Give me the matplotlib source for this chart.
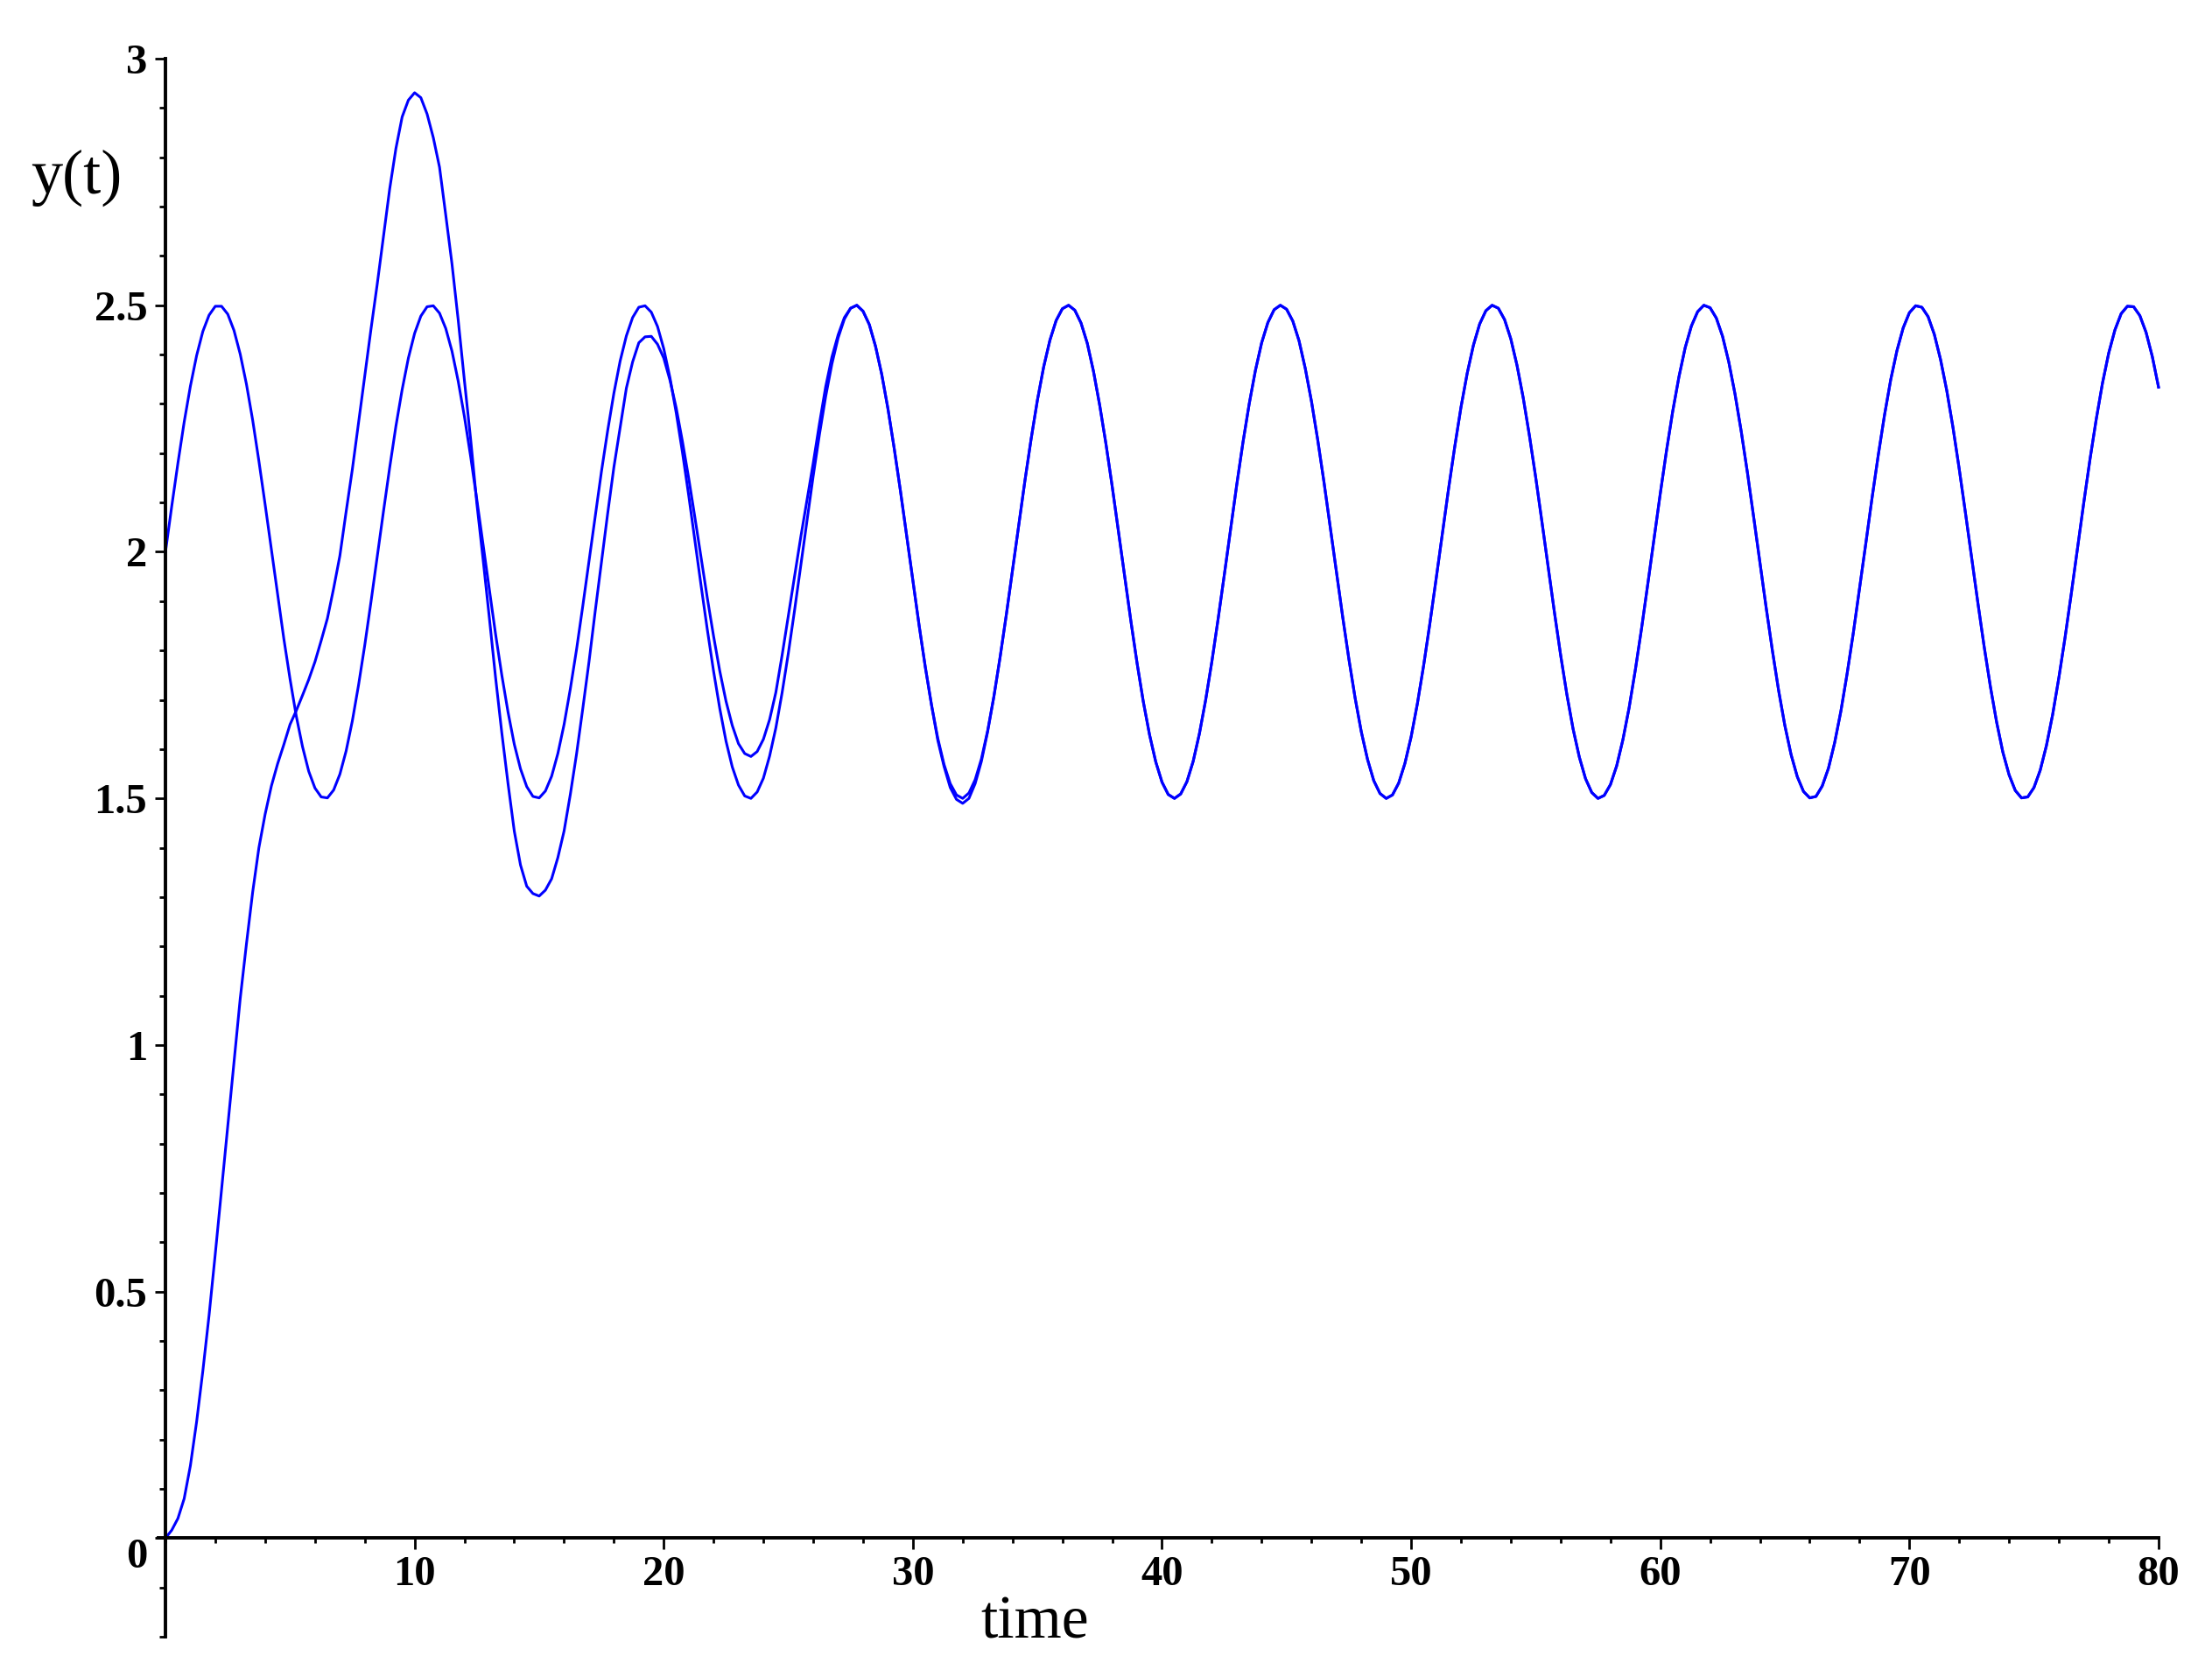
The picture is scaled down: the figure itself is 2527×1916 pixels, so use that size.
import matplotlib.pyplot as plt
from matplotlib.ticker import MultipleLocator
import numpy as np

# Values. "half" lists are at t = 0, 0.5, 1.0, ... 80,
# "quarter" lists are at t = 0.25, 0.75, ... 79.75.

# steady periodic solution (starts at 2, swings between 1.5 and 2.5)
steady_half = [
    2.000, 2.180, 2.336, 2.447, 2.498, 2.482, 2.401, 2.267, 2.096, 1.913,
    1.742, 1.605, 1.521, 1.501, 1.549, 1.657, 1.811, 1.991, 2.171, 2.329,
    2.443, 2.497, 2.484, 2.407, 2.274, 2.105, 1.922, 1.750, 1.610, 1.524,
    1.501, 1.545, 1.650, 1.802, 1.981, 2.163, 2.322, 2.438, 2.496, 2.486,
    2.412, 2.282, 2.115, 1.931, 1.758, 1.616, 1.527, 1.500, 1.541, 1.643,
    1.794, 1.972, 2.154, 2.315, 2.434, 2.494, 2.488, 2.417, 2.290, 2.124,
    1.941, 1.766, 1.622, 1.530, 1.500, 1.538, 1.637, 1.786, 1.963, 2.145,
    2.308, 2.429, 2.493, 2.490, 2.423, 2.297, 2.133, 1.950, 1.774, 1.629,
    1.533, 1.500, 1.534, 1.631, 1.777, 1.953, 2.136, 2.300, 2.424, 2.491,
    2.492, 2.428, 2.305, 2.142, 1.959, 1.783, 1.635, 1.536, 1.500, 1.531,
    1.625, 1.769, 1.944, 2.127, 2.293, 2.419, 2.489, 2.494, 2.432, 2.312,
    2.151, 1.969, 1.791, 1.641, 1.540, 1.500, 1.528, 1.619, 1.761, 1.935,
    2.118, 2.285, 2.414, 2.487, 2.495, 2.437, 2.320, 2.160, 1.978, 1.800,
    1.648, 1.544, 1.501, 1.525, 1.613, 1.753, 1.926, 2.109, 2.277, 2.408,
    2.485, 2.496, 2.441, 2.327, 2.168, 1.987, 1.808, 1.655, 1.548, 1.501,
    1.522, 1.607, 1.745, 1.916, 2.100, 2.269, 2.403, 2.483, 2.497, 2.445,
    2.334,
]
steady_quarter = [
    2.092, 2.263, 2.398, 2.480, 2.498, 2.449, 2.340, 2.184, 2.005, 1.824, 1.667, 1.555, 1.503, 1.517, 1.596, 1.730, 1.899,
    2.082, 2.255, 2.393, 2.478, 2.499, 2.453, 2.346, 2.193, 2.014, 1.833, 1.675, 1.560, 1.504, 1.515, 1.591, 1.722, 1.890,
    2.073, 2.246, 2.387, 2.475, 2.499, 2.457, 2.353, 2.202, 2.023, 1.842, 1.682, 1.564, 1.505, 1.513, 1.586, 1.714, 1.881,
    2.064, 2.238, 2.381, 2.472, 2.500, 2.461, 2.360, 2.210, 2.033, 1.851, 1.689, 1.569, 1.507, 1.511, 1.580, 1.706, 1.872,
    2.055, 2.230, 2.375, 2.469, 2.500, 2.464, 2.366, 2.219, 2.042, 1.860, 1.696, 1.574, 1.508, 1.509, 1.575, 1.699, 1.863,
    2.045, 2.222, 2.368, 2.465, 2.500, 2.468, 2.372, 2.227, 2.051, 1.869, 1.704, 1.579, 1.510, 1.507, 1.571, 1.692, 1.854,
    2.036, 2.213, 2.362, 2.462, 2.500, 2.471, 2.378, 2.235, 2.061, 1.878, 1.711, 1.584, 1.512, 1.506, 1.566, 1.684, 1.845,
    2.027, 2.205, 2.355, 2.458, 2.500, 2.474, 2.385, 2.244, 2.070, 1.887, 1.719, 1.589, 1.514, 1.504, 1.561, 1.677, 1.836,
    2.017, 2.196, 2.349, 2.454, 2.499, 2.477, 2.390, 2.252, 2.079, 1.896, 1.727, 1.594, 1.516, 1.503, 1.557, 1.670, 1.827,
    2.008, 2.188, 2.342, 2.450, 2.498, 2.479, 2.396,
]

# response starting from rest, up to t = 33 (after that it sits on the steady curve)
response_half_start = [
    0.000, 0.040, 0.147, 0.339, 0.577, 0.836, 1.094, 1.310, 1.468, 1.570,
    1.650, 1.709, 1.777, 1.865, 1.992, 2.167, 2.357, 2.543, 2.736, 2.882,
    2.931, 2.888, 2.780, 2.584, 2.347, 2.097, 1.866, 1.633, 1.434, 1.322,
    1.302, 1.337, 1.434, 1.590, 1.777, 1.979, 2.172, 2.332, 2.424, 2.437,
    2.393, 2.292, 2.150, 1.988, 1.829, 1.697, 1.611, 1.585, 1.620, 1.715,
    1.870, 2.030, 2.180, 2.335, 2.440, 2.494, 2.488, 2.417, 2.290, 2.124,
    1.941, 1.766, 1.618, 1.522, 1.490, 1.530, 1.635,
]
response_quarter_start = [
    0.016, 0.080, 0.236, 0.452, 0.706, 0.965, 1.205, 1.400, 1.525, 1.609,
    1.678, 1.741, 1.820, 1.926, 2.081, 2.262, 2.452, 2.640, 2.818, 2.916,
    2.921, 2.840, 2.683, 2.470, 2.228, 1.984, 1.745, 1.530, 1.365, 1.307,
    1.314, 1.380, 1.508, 1.682, 1.880, 2.078, 2.252, 2.385, 2.436, 2.421,
    2.348, 2.224, 2.070, 1.906, 1.758, 1.648, 1.591, 1.595, 1.660, 1.790,
    1.950, 2.105, 2.260, 2.395, 2.475, 2.500, 2.461, 2.360, 2.210, 2.033,
    1.851, 1.689, 1.565, 1.498, 1.500, 1.575,
]

x_ticks = [10, 20, 30, 40, 50, 60, 70, 80]
x_tick_labels = ['10', '20', '30', '40', '50', '60', '70', '80']
y_ticks = [0, 0.5, 1, 1.5, 2, 2.5, 3]
y_tick_labels = ['0', '0.5', '1', '1.5', '2', '2.5', '3']


def interleave(half, quarter):
    out = np.empty(len(half) + len(quarter))
    out[0::2] = half
    out[1::2] = quarter
    return out


steady = interleave(steady_half, steady_quarter)
response = interleave(response_half_start + steady_half[len(response_half_start):],
                      response_quarter_start + steady_quarter[len(response_quarter_start):])
t = np.arange(len(steady)) * 0.25

fig = plt.figure(figsize=(25.27, 19.16), dpi=100)
ax = fig.add_axes([0.07143, 0.0240, 0.9044, 0.9410])

ax.plot(t, steady, color='#0000ff', linewidth=2.2, clip_on=False)
ax.plot(t, response, color='#0000ff', linewidth=2.2, clip_on=False)

ax.set_xlim(-0.3, 80)
ax.set_ylim(-0.2, 3)

for side in ['top', 'right']:
    ax.spines[side].set_visible(False)
ax.spines['left'].set_position(('data', 0))
ax.spines['bottom'].set_position(('data', 0))
ax.spines['left'].set_bounds(-0.2, 3)
for side in ['left', 'bottom']:
    ax.spines[side].set_linewidth(2.8)

tick_font = dict(fontfamily='Liberation Serif', fontweight='bold', fontsize=35)
ax.set_xticks(x_ticks, x_tick_labels, **tick_font)
ax.set_yticks(y_ticks, y_tick_labels, **tick_font)
ax.xaxis.set_minor_locator(MultipleLocator(2))
ax.yaxis.set_minor_locator(MultipleLocator(0.1))

ax.tick_params(axis='x', which='major', direction='out', length=9, width=2, pad=5)
ax.tick_params(axis='x', which='minor', direction='out', length=4, width=2)
ax.tick_params(axis='y', which='major', direction='out', length=9, width=2, pad=6)
ax.tick_params(axis='y', which='minor', direction='out', length=5, width=2)

# the "0" on the y axis hangs just below the x axis
ax.get_yticklabels()[0].set_verticalalignment('top')

fig.text(87 / 2527, 1 - 221 / 1916, 'y(t)', ha='center', va='baseline',
         fontfamily='Liberation Serif', fontsize=52)
fig.text(1182 / 2527, 1 - 1872 / 1916, 'time', ha='center', va='baseline',
         fontfamily='Liberation Serif', fontsize=50)

fig.savefig('out.png', dpi=100)
